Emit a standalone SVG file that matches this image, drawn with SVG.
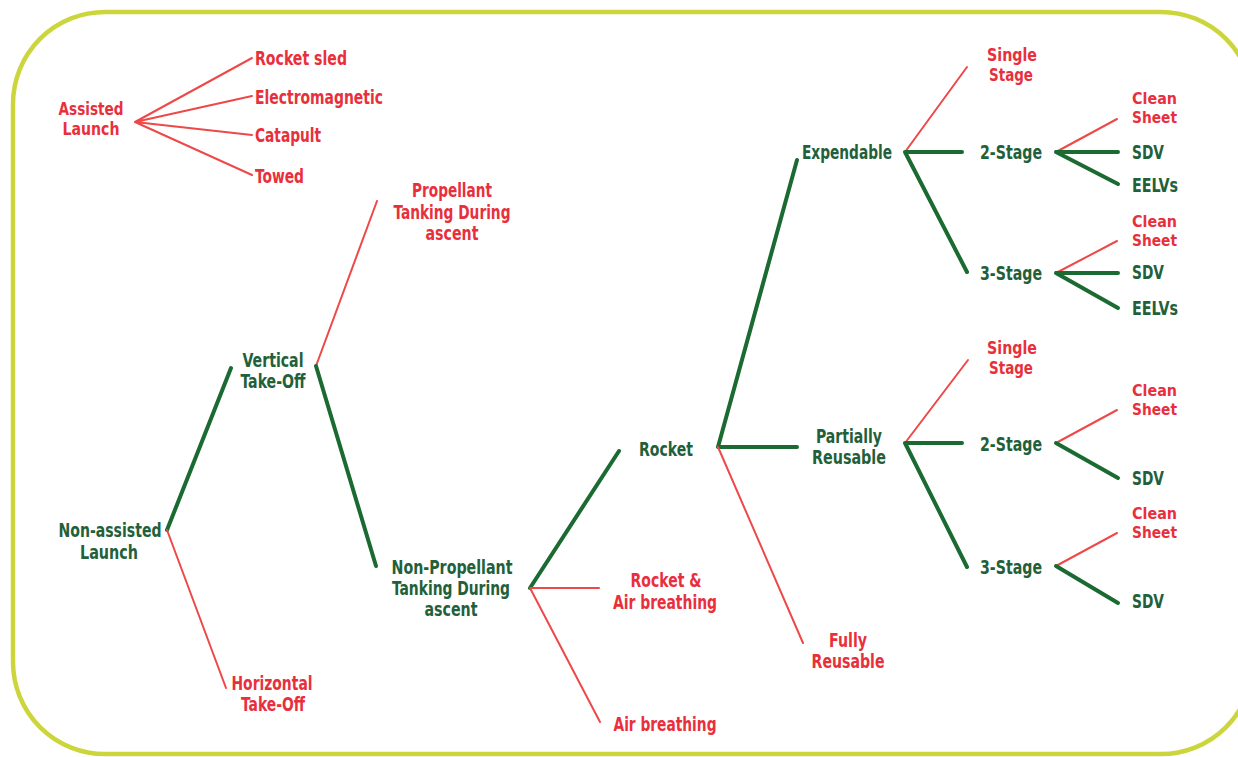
<svg xmlns="http://www.w3.org/2000/svg" width="1238" height="757" viewBox="0 0 1238 757">
<style>
text{font-family:"DejaVu Sans Condensed","Liberation Sans Narrow","Liberation Sans",sans-serif;font-weight:bold;font-size:19px;dominant-baseline:central}
.g{fill:#23603a}
.r{fill:#e8303c}
.m{text-anchor:middle}
.s{font-size:16px}
.t{font-size:17px}
.gl{stroke:#1b6a32;stroke-width:4;fill:none;stroke-linecap:round}
.rl{stroke:#ee4848;stroke-width:2;fill:none;stroke-linecap:round}
</style>
<rect width="1238" height="757" fill="#ffffff"/>
<rect x="13" y="12" width="1240" height="742" rx="92" ry="92" fill="none" stroke="#ccd63c" stroke-width="4.5"/>
<g id="connectors">
<path class="rl" d="M135 122L252 58M135 122L252 96M135 122L252 135M135 122L252 175"/>
<path class="gl" d="M167 530L231 368"/>
<path class="rl" d="M167 530L226 688"/>
<path class="rl" d="M316 366L377 201"/>
<path class="gl" d="M316 366L376 566"/>
<path class="gl" d="M530 588L619 451"/>
<path class="rl" d="M530 588L599 588M530 588L600 722"/>
<path class="gl" d="M718 447L797 160M718 447L797 447"/>
<path class="rl" d="M718 447L803 643"/>
<path class="rl" d="M905 152L967 67"/>
<path class="gl" d="M905 152L962 152M905 152L967 272"/>
<path class="rl" d="M1056 152L1117 119"/>
<path class="gl" d="M1056 152L1118 152M1056 152L1118 184"/>
<path class="rl" d="M1056 273L1117 241"/>
<path class="gl" d="M1056 273L1118 273M1056 273L1118 308"/>
<path class="rl" d="M905 443L968 360"/>
<path class="gl" d="M905 443L962 443M905 443L967 567"/>
<path class="rl" d="M1056 443L1117 410"/>
<path class="gl" d="M1056 443L1118 478"/>
<path class="rl" d="M1056 566L1117 533"/>
<path class="gl" d="M1056 566L1118 603"/>
</g>
<g id="assisted"><text class="r m t" x="91" y="109" textLength="65" lengthAdjust="spacingAndGlyphs">Assisted</text><text class="r m t" x="91" y="129" textLength="57" lengthAdjust="spacingAndGlyphs">Launch</text></g>
<g id="rocket-sled"><text class="r" x="255" y="58" textLength="92" lengthAdjust="spacingAndGlyphs">Rocket sled</text></g>
<g id="electromagnetic"><text class="r" x="255" y="97" textLength="128" lengthAdjust="spacingAndGlyphs">Electromagnetic</text></g>
<g id="catapult"><text class="r" x="255" y="135" textLength="66" lengthAdjust="spacingAndGlyphs">Catapult</text></g>
<g id="towed"><text class="r" x="255" y="176" textLength="49" lengthAdjust="spacingAndGlyphs">Towed</text></g>
<g id="non-assisted"><text class="g m" x="110" y="530" textLength="103" lengthAdjust="spacingAndGlyphs">Non-assisted</text><text class="g m" x="109" y="552" textLength="58" lengthAdjust="spacingAndGlyphs">Launch</text></g>
<g id="vertical"><text class="g m" x="273" y="360" textLength="61" lengthAdjust="spacingAndGlyphs">Vertical</text><text class="g m" x="273" y="381" textLength="65" lengthAdjust="spacingAndGlyphs">Take-Off</text></g>
<g id="horizontal"><text class="r m" x="272" y="683" textLength="81" lengthAdjust="spacingAndGlyphs">Horizontal</text><text class="r m" x="273" y="704" textLength="64" lengthAdjust="spacingAndGlyphs">Take-Off</text></g>
<g id="propellant"><text class="r m" x="452" y="190" textLength="80" lengthAdjust="spacingAndGlyphs">Propellant</text><text class="r m" x="452" y="212" textLength="117" lengthAdjust="spacingAndGlyphs">Tanking During</text><text class="r m" x="452" y="233" textLength="53" lengthAdjust="spacingAndGlyphs">ascent</text></g>
<g id="non-propellant"><text class="g m" x="452" y="567" textLength="121" lengthAdjust="spacingAndGlyphs">Non-Propellant</text><text class="g m" x="451" y="588" textLength="118" lengthAdjust="spacingAndGlyphs">Tanking During</text><text class="g m" x="451" y="609" textLength="53" lengthAdjust="spacingAndGlyphs">ascent</text></g>
<g id="rocket"><text class="g m" x="666" y="449" textLength="54" lengthAdjust="spacingAndGlyphs">Rocket</text></g>
<g id="rocket-air"><text class="r m" x="666" y="580" textLength="71" lengthAdjust="spacingAndGlyphs">Rocket &amp;</text><text class="r m" x="665" y="602" textLength="104" lengthAdjust="spacingAndGlyphs">Air breathing</text></g>
<g id="air"><text class="r m" x="665" y="724" textLength="103" lengthAdjust="spacingAndGlyphs">Air breathing</text></g>
<g id="expendable"><text class="g m" x="847" y="152" textLength="90" lengthAdjust="spacingAndGlyphs">Expendable</text></g>
<g id="partially"><text class="g m" x="849" y="436" textLength="66" lengthAdjust="spacingAndGlyphs">Partially</text><text class="g m" x="849" y="457" textLength="74" lengthAdjust="spacingAndGlyphs">Reusable</text></g>
<g id="fully"><text class="r m" x="848" y="640" textLength="38" lengthAdjust="spacingAndGlyphs">Fully</text><text class="r m" x="848" y="661" textLength="73" lengthAdjust="spacingAndGlyphs">Reusable</text></g>
<g id="e-single"><text class="r m t" x="1012" y="55" textLength="50" lengthAdjust="spacingAndGlyphs">Single</text><text class="r m t" x="1011" y="75" textLength="44" lengthAdjust="spacingAndGlyphs">Stage</text></g>
<g id="e-2stage"><text class="g m" x="1011" y="152" textLength="62" lengthAdjust="spacingAndGlyphs">2-Stage</text></g>
<g id="e-3stage"><text class="g m" x="1011" y="273" textLength="62" lengthAdjust="spacingAndGlyphs">3-Stage</text></g>
<g id="e2-clean"><text class="r s"><tspan x="1132" y="98" textLength="45" lengthAdjust="spacingAndGlyphs">Clean</tspan><tspan x="1132" y="117" textLength="45" lengthAdjust="spacingAndGlyphs">Sheet</tspan></text></g>
<g id="e2-sdv"><text class="g" x="1132" y="152" textLength="32" lengthAdjust="spacingAndGlyphs">SDV</text></g>
<g id="e2-eelv"><text class="g" x="1132" y="185" textLength="46" lengthAdjust="spacingAndGlyphs">EELVs</text></g>
<g id="e3-clean"><text class="r s"><tspan x="1132" y="221" textLength="45" lengthAdjust="spacingAndGlyphs">Clean</tspan><tspan x="1132" y="240" textLength="45" lengthAdjust="spacingAndGlyphs">Sheet</tspan></text></g>
<g id="e3-sdv"><text class="g" x="1132" y="272" textLength="32" lengthAdjust="spacingAndGlyphs">SDV</text></g>
<g id="e3-eelv"><text class="g" x="1132" y="308" textLength="46" lengthAdjust="spacingAndGlyphs">EELVs</text></g>
<g id="p-single"><text class="r m t" x="1012" y="348" textLength="50" lengthAdjust="spacingAndGlyphs">Single</text><text class="r m t" x="1011" y="368" textLength="44" lengthAdjust="spacingAndGlyphs">Stage</text></g>
<g id="p-2stage"><text class="g m" x="1011" y="444" textLength="62" lengthAdjust="spacingAndGlyphs">2-Stage</text></g>
<g id="p-3stage"><text class="g m" x="1011" y="567" textLength="62" lengthAdjust="spacingAndGlyphs">3-Stage</text></g>
<g id="p2-clean"><text class="r s"><tspan x="1132" y="390" textLength="45" lengthAdjust="spacingAndGlyphs">Clean</tspan><tspan x="1132" y="409" textLength="45" lengthAdjust="spacingAndGlyphs">Sheet</tspan></text></g>
<g id="p2-sdv"><text class="g" x="1132" y="478" textLength="32" lengthAdjust="spacingAndGlyphs">SDV</text></g>
<g id="p3-clean"><text class="r s"><tspan x="1132" y="513" textLength="45" lengthAdjust="spacingAndGlyphs">Clean</tspan><tspan x="1132" y="532" textLength="45" lengthAdjust="spacingAndGlyphs">Sheet</tspan></text></g>
<g id="p3-sdv"><text class="g" x="1132" y="601" textLength="32" lengthAdjust="spacingAndGlyphs">SDV</text></g>
</svg>
